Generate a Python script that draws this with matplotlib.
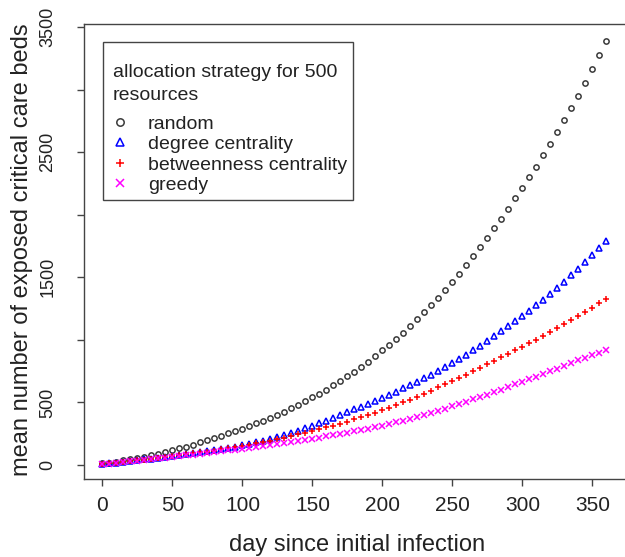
import matplotlib

matplotlib.use('Agg')

import matplotlib.pyplot as plt
import numpy as np
from matplotlib.patches import Rectangle


OUTPUT_PATH = 'out.png'

# days sampled every 5 days, 0..360
DAYS = np.arange(0, 361, 5)

RANDOM = [
    12, 19, 27, 36, 46, 56, 67, 79, 91, 104,
    118, 132, 147, 163, 180, 197, 215, 233, 252, 271,
    291, 311, 332, 354, 377, 400, 425, 452, 480, 509,
    540, 571, 603, 637, 672, 708, 746, 785, 825, 868,
    915, 960, 1008, 1058, 1110, 1164, 1220, 1278, 1338, 1400,
    1464, 1530, 1598, 1668, 1740, 1814, 1890, 1968, 2048, 2130,
    2213, 2298, 2385, 2474, 2566, 2659, 2754, 2852, 2952, 3055,
    3162, 3274, 3389,
]

DEGREE = [
    8, 13, 19, 25, 31, 37, 44, 50, 57, 64,
    71, 78, 85, 93, 100, 108, 117, 127, 137, 147,
    158, 170, 182, 195, 208, 222, 238, 255, 273, 292,
    312, 333, 354, 376, 398, 421, 444, 467, 491, 515,
    538, 562, 587, 612, 638, 665, 693, 722, 752, 782,
    813, 846, 880, 915, 951, 989, 1028, 1067, 1108, 1148,
    1190, 1233, 1277, 1322, 1368, 1416, 1466, 1517, 1570, 1622,
    1676, 1732, 1790,
]

BETWEENNESS = [
    8, 13, 19, 25, 31, 37, 43, 50, 56, 63,
    70, 77, 84, 92, 100, 107, 115, 124, 133, 142,
    152, 162, 172, 183, 194, 206, 218, 231, 244, 257,
    271, 285, 300, 315, 331, 347, 364, 381, 399, 417,
    436, 457, 478, 500, 522, 545, 570, 595, 620, 645,
    671, 697, 723, 750, 777, 804, 832, 860, 888, 916,
    944, 973, 1002, 1032, 1063, 1094, 1126, 1158, 1191, 1223,
    1256, 1291, 1327,
]

GREEDY = [
    6, 11, 17, 22, 28, 34, 40, 46, 52, 58,
    64, 70, 76, 83, 89, 96, 102, 109, 116, 123,
    130, 137, 144, 151, 159, 167, 175, 183, 192, 201,
    210, 219, 228, 238, 248, 258, 269, 280, 291, 303,
    315, 328, 341, 355, 369, 384, 399, 415, 432, 450,
    468, 487, 506, 525, 544, 563, 583, 603, 623, 644,
    665, 686, 707, 728, 749, 770, 791, 813, 835, 856,
    877, 898, 919,
]

STRATEGIES = ['random', 'degree centrality', 'betweenness centrality', 'greedy']
SERIES = [RANDOM, DEGREE, BETWEENNESS, GREEDY]
MARKERS = ['o', '^', '+', 'x']
MARKER_SIZES = [3.8, 4.4, 4.6, 4.0]
COLORS = ['#3a3a3a', '#0000ff', '#ff0000', '#ff00ff']

X_TICKS = [0, 50, 100, 150, 200, 250, 300, 350]
Y_TICKS = [0, 500, 1000, 1500, 2000, 2500, 3000, 3500]
Y_TICK_LABELS = ['0', '500', '', '1500', '', '2500', '', '3500']

TEXT_COLOR = '#222222'
BOX_COLOR = '#444444'

# plot box in pixels of the 625x557 canvas (right edge runs off the canvas)
BOX_LEFT, BOX_RIGHT, BOX_TOP, BOX_BOTTOM = 84, 644, 24, 479
BOX_W = BOX_RIGHT - BOX_LEFT
BOX_H = BOX_BOTTOM - BOX_TOP


def ax_x(px):
    return (px - BOX_LEFT) / BOX_W


def ax_y(py):
    return (BOX_BOTTOM - py) / BOX_H


def plot_chart():
    plt.rcParams['font.family'] = ['Liberation Sans', 'DejaVu Sans']

    fig = plt.figure(figsize=(6.25, 5.57), dpi=100)
    ax = fig.add_axes([BOX_LEFT / 625, (557 - BOX_BOTTOM) / 557, BOX_W / 625, BOX_H / 557])

    handles = []
    for values, marker, size, color, label in zip(SERIES, MARKERS, MARKER_SIZES, COLORS, STRATEGIES):
        (line,) = ax.plot(
            DAYS,
            values,
            linestyle='none',
            marker=marker,
            markersize=size,
            markerfacecolor='none',
            markeredgecolor=color,
            markeredgewidth=1.1,
            label=label,
        )
        handles.append(line)

    ax.set_xlim(-13.2, 386.8)
    ax.set_ylim(-112, 3524)
    ax.set_xticks(X_TICKS)
    ax.set_yticks(Y_TICKS)
    ax.set_yticklabels(Y_TICK_LABELS, rotation=90, va='center')

    ax.tick_params(axis='both', direction='out', length=5, width=1.0,
                   color=BOX_COLOR, labelcolor=TEXT_COLOR)
    ax.tick_params(axis='x', labelsize=15, pad=7)
    ax.tick_params(axis='y', labelsize=13, pad=15)

    for spine in ax.spines.values():
        spine.set_color(BOX_COLOR)
        spine.set_linewidth(1.0)
    ax.spines['right'].set_visible(False)

    ax.set_xlabel('day since initial infection', fontsize=17, color=TEXT_COLOR, va='center')
    ax.xaxis.set_label_coords(ax_x(357), ax_y(545))
    ax.set_ylabel('mean number of exposed critical care beds', fontsize=17,
                  color=TEXT_COLOR, va='center')
    ax.yaxis.set_label_coords(ax_x(22), ax_y(250))

    # legend frame drawn as its own box, legend contents placed inside it
    frame = Rectangle(
        (ax_x(103), ax_y(200)),
        ax_x(353) - ax_x(103),
        ax_y(42) - ax_y(200),
        transform=ax.transAxes,
        facecolor='white',
        edgecolor=BOX_COLOR,
        linewidth=1.0,
        zorder=4,
    )
    ax.add_patch(frame)

    legend = ax.legend(
        handles=handles,
        title='allocation strategy for 500\nresources',
        loc='upper left',
        bbox_to_anchor=(ax_x(113), ax_y(64)),
        borderaxespad=0,
        borderpad=0,
        fontsize=14,
        title_fontsize=14,
        alignment='left',
        frameon=False,
        handlelength=0.7,
        handletextpad=1.1,
        labelspacing=0.15,
        markerscale=1.4,
    )
    legend.set_zorder(5)
    legend._legend_box.sep = 8
    legend.get_title().set_linespacing(1.45)
    legend.get_title().set_color(TEXT_COLOR)
    for text in legend.get_texts():
        text.set_color(TEXT_COLOR)

    fig.savefig(OUTPUT_PATH, dpi=100)
    plt.close(fig)


def main():
    plot_chart()


if __name__ == '__main__':
    main()
